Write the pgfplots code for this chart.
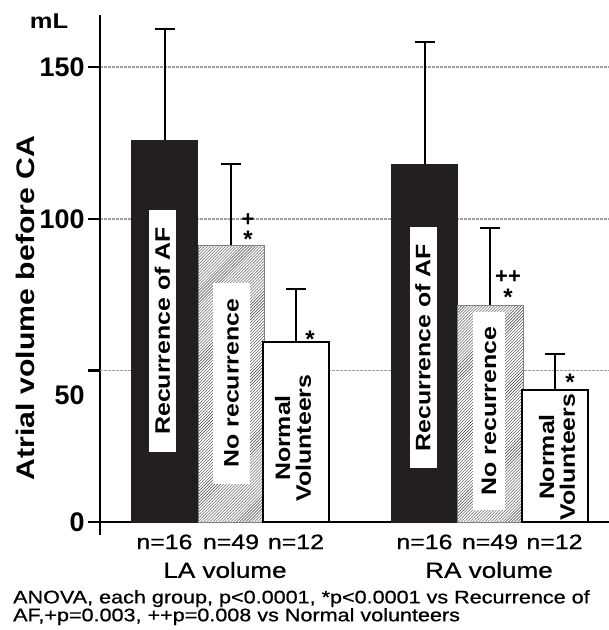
\documentclass[border=0pt]{standalone}
\usepackage{fontspec}
\setmainfont{Liberation Sans}
\newfontfamily\wf[FakeStretch=1.19]{Liberation Sans}
\newfontfamily\wfm[FakeStretch=1.19, FakeBold=0.8]{Liberation Sans}
\usepackage{pgfplots}
\pgfplotsset{compat=1.18}
\usetikzlibrary{patterns}
\definecolor{barblack}{RGB}{35,31,32}
\begin{document}
\begin{tikzpicture}[x=1bp,y=1bp]
\begin{axis}[
 at={(0,0)}, anchor=south west,
 scale only axis, width=509bp, height=507bp,
 xmin=100, xmax=609, ymin=0, ymax=167.2,
 clip=false,
 axis x line*=bottom, axis y line*=left,
 axis line style={line width=2.5bp, black},
 ytick={0,100,150},
 extra y ticks={50},
 extra y tick style={grid=major, yticklabel style={yshift=-25bp}},
 ymajorgrids,
 major grid style={gray!75, line width=1.6bp, dash pattern=on 3bp off 1bp},
 tick align=outside,
 ytick style={line width=2.5bp, black},
 major tick length=12bp,
 yticklabel style={font=\fontsize{27}{27}\selectfont\bfseries},
 /pgf/number format/assume math mode=true,
 xtick={164.5,231,296,424.5,490,554.5},
 xticklabels={n=16,n=49,n=12,n=16,n=49,n=12},
 xtick style={draw=none},
 xticklabel style={font=\wfm\fontsize{21}{21}\selectfont, yshift=3bp},
 error bars/error bar style={line width=2bp, black},
 error bars/error mark options={rotate=90, mark size=10bp, line width=2bp, black},
]
% Recurrence of AF
\addplot[ybar, bar width=66, bar shift=0pt, fill=barblack, draw=barblack,
  error bars/.cd, y dir=plus, y explicit]
  coordinates {(164.5,125.9) +- (0,36.6) (424.5,118.0) +- (0,40.3)};
% No recurrence
\addplot[ybar, bar width=66, bar shift=0pt, fill=white, draw=gray, line width=0.6bp,
  postaction={pattern=north east lines, pattern color=black!75},
  error bars/.cd, y dir=plus, y explicit]
  coordinates {(231,91.3) +- (0,26.7) (490,71.5) +- (0,25.4)};
% Normal volunteers
\addplot[ybar, bar width=66, bar shift=0pt, fill=white, draw=black, line width=2bp,
  error bars/.cd, y dir=plus, y explicit]
  coordinates {(296,59.3) +- (0,17.5) (554.5,43.5) +- (0,11.9)};

% label boxes
\node[rotate=90, fill=white, inner sep=0, minimum width=242bp, minimum height=27bp,
  font=\wf\fontsize{21}{21}\selectfont\bfseries] at (axis cs:162.5,63.0) {Recurrence of AF};
\node[rotate=90, fill=white, inner sep=0, minimum width=241bp, minimum height=27bp,
  font=\wf\fontsize{21}{21}\selectfont\bfseries] at (axis cs:423,57.5) {Recurrence of AF};
\node[rotate=90, fill=white, inner sep=0, minimum width=201bp, minimum height=37bp,
  font=\wf\fontsize{21}{21}\selectfont\bfseries] at (axis cs:231.5,45.8) {No recurrence};
\node[rotate=90, fill=white, inner sep=0, minimum width=198bp, minimum height=32bp,
  font=\wf\fontsize{21}{21}\selectfont\bfseries] at (axis cs:489,36.6) {No recurrence};
\node[rotate=90, inner sep=0, align=center,
  font=\wf\fontsize{21}{21}\selectfont\bfseries] at (axis cs:293,27.7) {Normal\\Volunteers};
\node[rotate=90, inner sep=0, align=center,
  font=\wf\fontsize{21}{21}\selectfont\bfseries] at (axis cs:557,21.4) {Normal\\Volunteers};

% significance marks
\node[anchor=base, inner sep=0, font=\fontsize{22}{22}\selectfont\bfseries] at (axis cs:248,97.5) {+};
\node[anchor=base, inner sep=0, font=\fontsize{24}{24}\selectfont\bfseries] at (axis cs:248,90.5) {*};
\node[anchor=base, inner sep=0, font=\fontsize{24}{24}\selectfont\bfseries] at (axis cs:310,57.6) {*};
\node[anchor=base, inner sep=0, font=\fontsize{22}{22}\selectfont\bfseries] at (axis cs:508,78.7) {++};
\node[anchor=base, inner sep=0, font=\fontsize{24}{24}\selectfont\bfseries] at (axis cs:508,71.4) {*};
\node[anchor=base, inner sep=0, font=\fontsize{24}{24}\selectfont\bfseries] at (axis cs:570,43.4) {*};

% small downward stub of y axis
\draw[line width=2.5bp] (axis cs:100,0) -- ++(0pt,-13bp);

% unit and axis title
\node[font=\wf\fontsize{21.5}{21.5}\selectfont\bfseries] at (axis cs:49,165.2) {mL};
\node[rotate=90, font=\wf\fontsize{25.5}{25.5}\selectfont\bfseries] at (axis cs:25,70.6) {Atrial volume before CA};

% group labels
\node[font=\wfm\fontsize{22}{22}\selectfont, yshift=-48bp] at (axis cs:225,0) {LA volume};
\node[font=\wfm\fontsize{22}{22}\selectfont, yshift=-48bp] at (axis cs:489,0) {RA volume};

% footnote
\node[anchor=north west, align=left, inner sep=0, yshift=-68bp,
  font=\wfm\fontsize{18.2}{16.5}\selectfont] at (axis cs:13,0)
  {ANOVA, each group, p<0.0001, *p<0.0001 vs Recurrence of\\AF,+p=0.003, ++p=0.008 vs Normal volunteers};
\end{axis}
\pgfresetboundingbox
\path (-100,-108) rectangle (509,522);
\end{tikzpicture}
\end{document}
